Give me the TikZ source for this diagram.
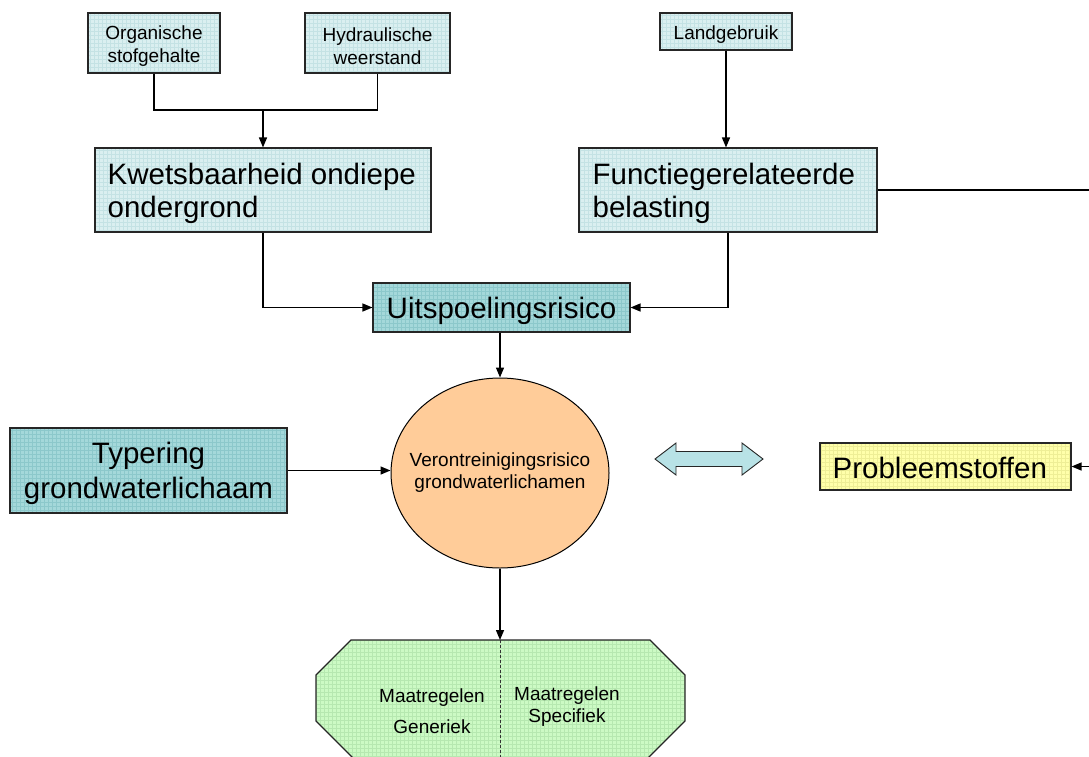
\documentclass[tikz,border=0pt]{standalone}
\usepackage{fontspec}
\setmainfont{Liberation Sans}
\usetikzlibrary{arrows.meta,shapes.geometric}
\definecolor{lightbox}{RGB}{218,239,240}
\definecolor{lightgrid}{RGB}{196,226,228}
\definecolor{darkbox}{RGB}{164,216,218}
\definecolor{darkgrid}{RGB}{140,200,203}
\definecolor{peach}{RGB}{255,204,153}
\definecolor{paleyellow}{RGB}{255,255,170}
\definecolor{yellowgrid}{RGB}{238,238,150}
\definecolor{palegreen}{RGB}{204,250,196}
\definecolor{greengrid}{RGB}{182,232,176}
\definecolor{arrowblue}{RGB}{184,226,230}
\tikzset{
  gridfill/.style={path picture={\draw[#1, line width=0.35pt, step=4pt]
     (path picture bounding box.south west) grid (path picture bounding box.north east);}},
  boxbase/.style={draw=black!85, line width=1.1pt, inner sep=0pt},
  lightnode/.style={boxbase, fill=lightbox, gridfill=lightgrid},
  darknode/.style={boxbase, fill=darkbox, gridfill=darkgrid},
  txt/.style={inner sep=0pt, yshift=-3pt},
  smalltext/.style={font=\fontsize{19}{23}\selectfont},
  bigtext/.style={font=\fontsize{29.5}{33}\selectfont},
  conn/.style={line width=1.4pt, draw=black},
  arr/.style={conn, -{Triangle[length=10pt,width=8pt]}},
}
\begin{document}
\begin{tikzpicture}[x=1pt,y=-1pt]
\useasboundingbox (0,0) rectangle (1089,756);
\clip (0,0) rectangle (1089,756);

% small input boxes
\node[lightnode, minimum width=132pt, minimum height=60pt] (org) at (154,43) {};
\node[txt, smalltext, align=center] (orgt) at (org.center) {Organische\\stofgehalte};
\node[lightnode, minimum width=145pt, minimum height=60pt] (hyd) at (377.5,43) {};
\node[txt, smalltext, align=center] (hydt) at (hyd.center) {Hydraulische\\weerstand};
\node[lightnode, minimum width=132pt, minimum height=37pt] (land) at (726,31.5) {};
\node[txt, smalltext, align=center] (landt) at (land.center) {Landgebruik};

% big boxes
\node[lightnode, minimum width=336pt, minimum height=84pt] (kw) at (263,190) {};
\node[txt, bigtext, align=left, anchor=west] (kwt) at ([xshift=13pt]kw.west) {Kwetsbaarheid ondiepe\\ondergrond};
\node[lightnode, minimum width=298pt, minimum height=84pt] (fb) at (728,190) {};
\node[txt, bigtext, align=left, anchor=west] (fbt) at ([xshift=14pt]fb.west) {Functiegerelateerde\\belasting};
\node[darknode, minimum width=257pt, minimum height=49pt] (uit) at (501.5,307.5) {};
\node[txt, bigtext, align=center] (uitt) at (uit.center) {Uitspoelingsrisico};
\node[darknode, minimum width=277pt, minimum height=85pt] (typ) at (148.5,470.5) {};
\node[txt, align=center, font=\fontsize{29.5}{35}\selectfont] (typt) at (typ.center) {Typering\\grondwaterlichaam};
\node[boxbase, fill=paleyellow, gridfill=yellowgrid, minimum width=251pt, minimum height=47pt] (prob) at (945.5,466.5) {};
\node[txt, bigtext, anchor=west, yshift=2pt] (probt) at ([xshift=13pt]prob.west) {Probleemstoffen};

% ellipse
\node[ellipse, draw=black, line width=1pt, fill=peach, minimum width=218pt, minimum height=190pt, inner sep=0pt] (ell) at (500,473) {};
\node[inner sep=0pt, align=center, font=\fontsize{19}{22}\selectfont] (ellt) at (ell.center) {Verontreinigingsrisico\\grondwaterlichamen};

% double arrow
\filldraw[fill=arrowblue, draw=black!85, line width=0.9pt]
  (655,459) -- (676,443) -- (676,451.5) -- (742,451.5) -- (742,443) -- (763,459)
  -- (742,475) -- (742,466.5) -- (676,466.5) -- (676,475) -- cycle;

% octagon
\filldraw[fill=palegreen, draw=black!85, line width=1.1pt, gridfill=greengrid]
  (351,640) -- (650,640) -- (685,675) -- (685,721) -- (646,760) -- (355,760) -- (316,721) -- (316,675) -- cycle;
\coordinate (oct) at (500,640);
\coordinate (octb) at (500,760);
\draw[black!80, line width=0.8pt, densely dashed] (oct) -- (octb);
\node[align=center, font=\fontsize{19}{23}\selectfont] (mg) at (432,711) {Maatregelen\\[8pt]Generiek};
\node[align=center, font=\fontsize{19}{22}\selectfont] (ms) at (567,706.5) {Maatregelen\\Specifiek};

% connectors
\coordinate (jn) at (263,110);
\draw[conn] (org.south) |- (jn) -| (hyd.south);
\draw[arr] (jn) -- (kw.north);
\draw[arr] (land.south) -- (land.south |- fb.north);
\draw[arr] (kw.south) |- (uit.west);
\draw[arr] (fb.south) |- (uit.east);
\draw[arr] (ell.north |- uit.south) -- (ell.north);
\draw[arr] (typ.east) -- (typ.east -| ell.west);
\draw[arr] (ell.south) -- (oct);
\coordinate (rc) at (1120,190);
\draw[arr] (fb.east) -- (rc) |- (prob.east);
\end{tikzpicture}
\end{document}
